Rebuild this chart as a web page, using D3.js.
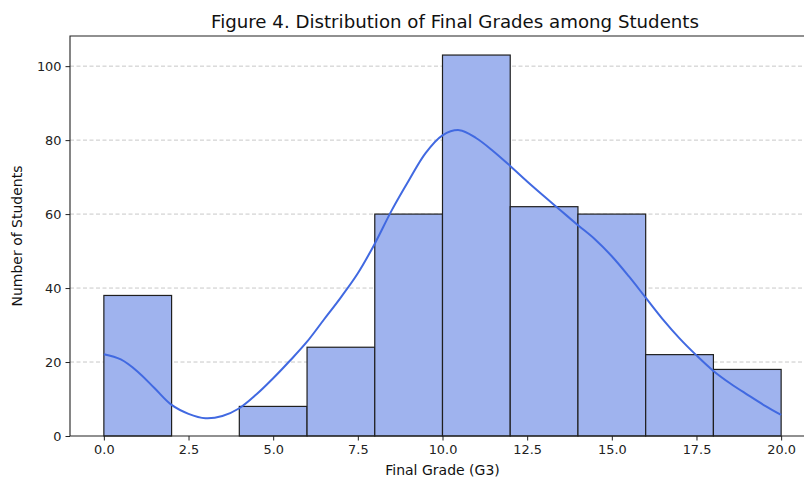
<!DOCTYPE html>
<html>
<head>
<meta charset="utf-8">
<script src="https://cdn.jsdelivr.net/npm/d3@7"></script>
<style>
  body { margin: 0; background: #fff; }
  svg { font-family: "DejaVu Sans", sans-serif; }
</style>
</head>
<body>
<svg id="chart" width="804" height="479"></svg>
<script>
"use strict";

// Histogramme : bornes des classes et effectifs
var binEdges = [0, 2, 4, 6, 8, 10, 12, 14, 16, 18, 20];
var counts = [38, 0, 8, 24, 60, 103, 62, 60, 22, 18];

// Courbe de densité (KDE)
var kdeX = [0, 0.5, 1, 1.5, 2, 2.5, 3, 3.5, 4, 4.5, 5, 5.5, 6, 6.5, 7, 7.5, 8, 8.5, 9, 9.5,
  10, 10.5, 11, 11.5, 12, 12.5, 13, 13.5, 14, 14.5, 15, 15.5, 16, 16.5, 17, 17.5, 18, 18.5, 19, 19.5, 20];
var kdeY = [22.1, 20.7, 17.4, 12.9, 8.4, 6.0, 4.8, 5.4, 7.5, 11.2, 15.6, 20.4, 25.5, 31.5, 37.5, 44, 52, 61, 69, 76.5,
  81.3, 82.7, 80.5, 77, 73, 68.8, 64.8, 60.9, 57, 53.2, 48.6, 43.2, 37.4, 31.6, 26.4, 21.8, 17.6, 14.2, 11.2, 8.3, 5.7];

var xTicks = [0, 2.5, 5, 7.5, 10, 12.5, 15, 17.5, 20];
var yTicks = [0, 20, 40, 60, 80, 100];

var svg = d3.select("#chart");
var plotLeft = 70, plotRight = 815, plotTop = 36, plotBottom = 436;

var x = d3.scaleLinear().domain([-1, 21]).range([plotLeft, plotRight]);
var y = d3.scaleLinear().domain([0, 108.15]).range([plotBottom, plotTop]);

// Grille horizontale pointillée
svg.append("g")
  .selectAll("line")
  .data(yTicks.slice(1))
  .enter()
  .append("line")
  .attr("x1", plotLeft)
  .attr("x2", plotRight)
  .attr("y1", function (d) { return y(d); })
  .attr("y2", function (d) { return y(d); })
  .attr("stroke", "#c8c8c8")
  .attr("stroke-width", 1)
  .attr("stroke-dasharray", "4,2.5");

// Barres
var bins = counts.map(function (c, i) {
  return { x0: binEdges[i], x1: binEdges[i + 1], count: c };
}).filter(function (d) { return d.count > 0; });

svg.append("g")
  .selectAll("rect")
  .data(bins)
  .enter()
  .append("rect")
  .attr("x", function (d) { return x(d.x0); })
  .attr("y", function (d) { return y(d.count); })
  .attr("width", function (d) { return x(d.x1) - x(d.x0); })
  .attr("height", function (d) { return y(0) - y(d.count); })
  .attr("fill", "#9fb3ee")
  .attr("stroke", "#1f1f1f")
  .attr("stroke-width", 1.2);

// Courbe KDE
var line = d3.line()
  .x(function (d) { return x(d[0]); })
  .y(function (d) { return y(d[1]); })
  .curve(d3.curveCatmullRom);

svg.append("path")
  .datum(d3.zip(kdeX, kdeY))
  .attr("d", line)
  .attr("fill", "none")
  .attr("stroke", "#4169e1")
  .attr("stroke-width", 2);

// Axes
var xAxis = d3.axisBottom(x).tickValues(xTicks).tickSize(4.5).tickPadding(4)
  .tickFormat(d3.format(".1f"));
var yAxis = d3.axisLeft(y).tickValues(yTicks).tickSize(4.5).tickPadding(4)
  .tickFormat(d3.format("d"));

var gx = svg.append("g").attr("transform", "translate(0," + plotBottom + ")").call(xAxis);
var gy = svg.append("g").attr("transform", "translate(" + plotLeft + ",0)").call(yAxis);

[gx, gy].forEach(function (g) {
  g.select(".domain").remove();
  g.selectAll("text").attr("font-size", "12.9px").attr("fill", "#222")
    .attr("font-family", "DejaVu Sans");
  g.selectAll("line").attr("stroke", "#222").attr("stroke-width", 1);
});

// Cadre (haut, gauche, bas)
svg.append("path")
  .attr("d", "M" + plotRight + "," + plotTop + "H" + plotLeft + "V" + plotBottom + "H" + plotRight)
  .attr("fill", "none")
  .attr("stroke", "#222")
  .attr("stroke-width", 1.1);

// Titres
svg.append("text")
  .attr("x", 455)
  .attr("y", 27.5)
  .attr("text-anchor", "middle")
  .attr("font-size", "18.2px")
  .attr("fill", "#111")
  .text("Figure 4. Distribution of Final Grades among Students");

svg.append("text")
  .attr("x", (plotLeft + plotRight) / 2)
  .attr("y", 475)
  .attr("text-anchor", "middle")
  .attr("font-size", "14px")
  .attr("fill", "#111")
  .text("Final Grade (G3)");

svg.append("text")
  .attr("transform", "translate(22," + ((plotTop + plotBottom) / 2) + ") rotate(-90)")
  .attr("text-anchor", "middle")
  .attr("font-size", "14px")
  .attr("fill", "#111")
  .text("Number of Students");
</script>
</body>
</html>
